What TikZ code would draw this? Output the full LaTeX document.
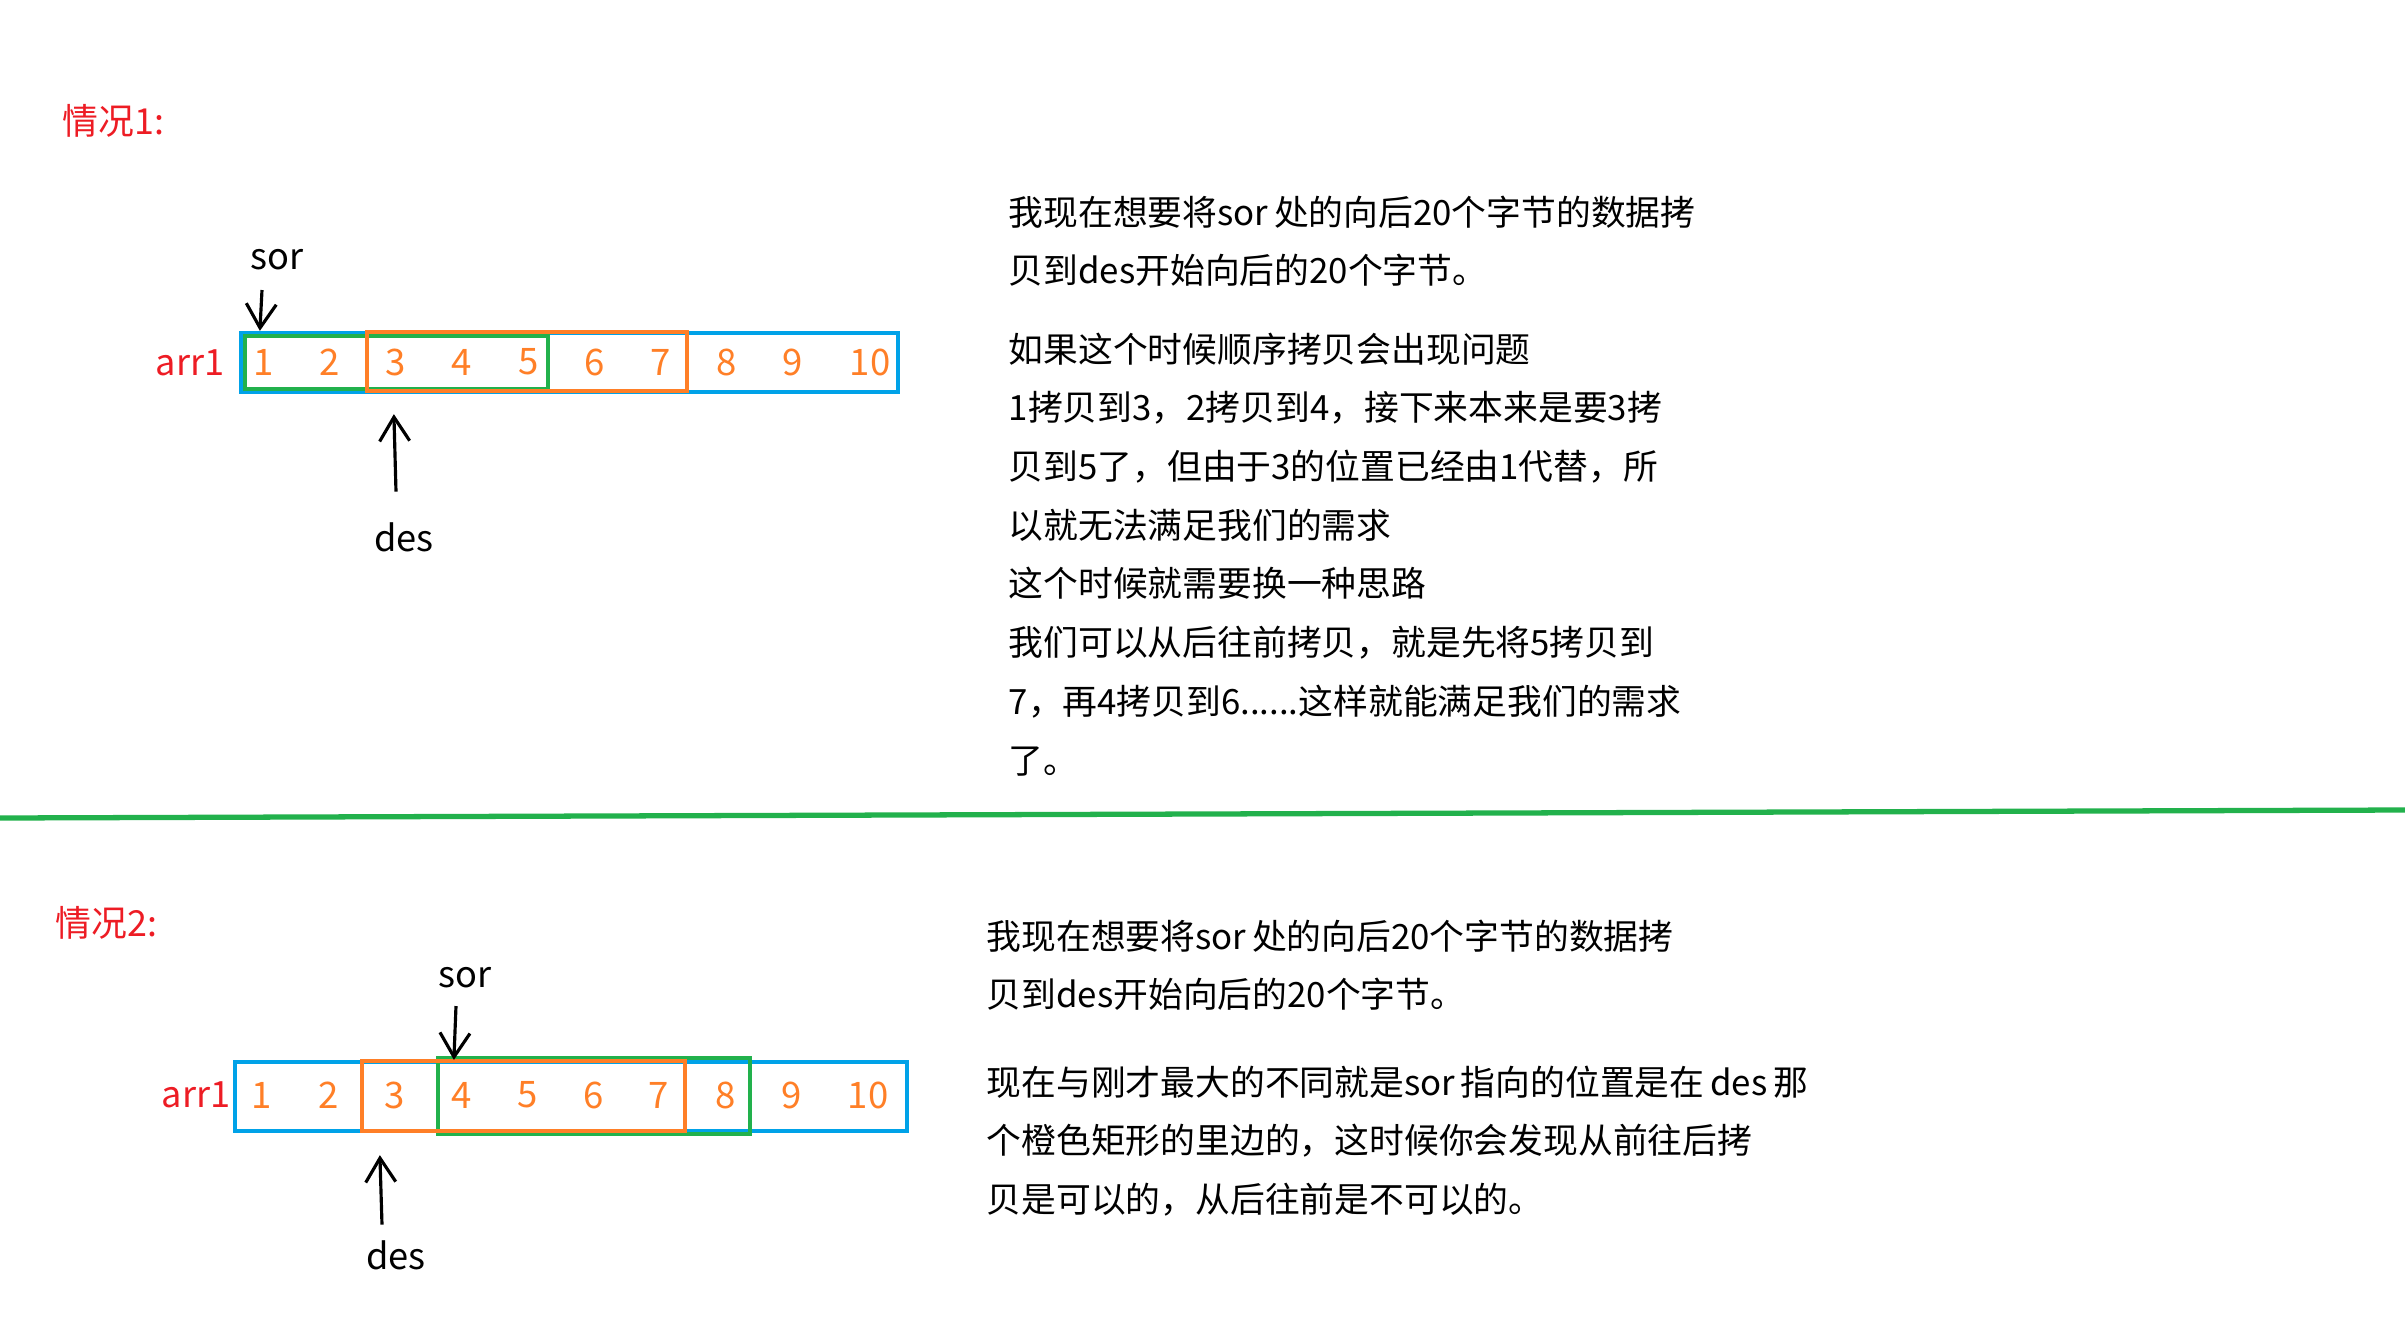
\documentclass[tikz,border=0pt]{standalone}
\usepackage{fontspec}
\setmainfont{Noto Sans CJK SC}
\usetikzlibrary{positioning, arrows.meta, calc}

\definecolor{mspblue}{RGB}{0,162,232}
\definecolor{msporange}{RGB}{255,127,39}
\definecolor{mspgreen}{RGB}{34,177,76}
\definecolor{mspred}{RGB}{237,28,36}

\begin{document}
\begin{tikzpicture}[
  inner sep=0pt,
  font=\fontsize{9.9}{16.7}\selectfont,
  % Estilos de cajas del arreglo
  arrbox/.style={draw, rectangle, line width=1.2pt},
  numtxt/.style={text=msporange, font=\fontsize{10.4}{12}\selectfont},
  % Estilos de textos
  casetxt/.style={anchor=west, text=mspred, font=\fontsize{10.2}{12}\selectfont},
  ptrtxt/.style={font=\fontsize{10.3}{12}\selectfont},
  paratxt/.style={anchor=north west, align=left},
  % Estilos de flechas
  ptr/.style={draw, -{Straight Barb[length=2.4mm, width=3mm]}, line width=0.9pt}
]
  \useasboundingbox (0,0) rectangle (24.05,-13.19);

  % ==========================================
  % CASE 1
  % ==========================================
  \node[casetxt] (case1) at (0.62,-1.21) {情况1:};

  % --- array boxes ---
  \node[arrbox, draw=mspblue, minimum width=6.57cm, minimum height=0.59cm] (arrA) at (5.695,-3.625) {};
  \node[arrbox, draw=mspgreen, minimum width=3.03cm, minimum height=0.53cm] (srcA) at (3.965,-3.625) {};
  \node[arrbox, draw=msporange, minimum width=3.20cm, minimum height=0.59cm] (dstA) at (5.27,-3.615) {};
  \node[text=mspred, ptrtxt] (nameA) at (1.90,-3.63) {arr1};

  % --- cell values ---
  \node[numtxt] (a1) at (2.64,-3.62) {1};
  \node[numtxt] (a2) at (3.30,-3.62) {2};
  \node[numtxt] (a3) at (3.96,-3.62) {3};
  \node[numtxt] (a4) at (4.62,-3.62) {4};
  \node[numtxt] (a5) at (5.29,-3.62) {5};
  \node[numtxt] (a6) at (5.95,-3.62) {6};
  \node[numtxt] (a7) at (6.61,-3.62) {7};
  \node[numtxt] (a8) at (7.27,-3.62) {8};
  \node[numtxt] (a9) at (7.93,-3.62) {9};
  \node[numtxt] (a10) at (8.70,-3.62) {10};

  % --- pointers ---
  \node[ptrtxt] (sorA) at (2.77,-2.60) {sor};
  \node[ptrtxt] (desA) at (4.04,-5.37) {des};
  \draw[ptr] ($(sorA.south)+(-0.15,-0.19)$) -- ($(arrA.north west)+(0.21,0)$);
  \draw[ptr] ($(desA.north)+(-0.08,0.30)$) -- ($(arrA.south west)+(1.55,-0.20)$);

  % --- explanation ---
  \node[paratxt] (txtA1) at (10.08,-1.95) {
    我现在想要将sor\,处的向后20个字节的数据拷\\
    贝到des开始向后的20个字节。
  };
  \node[paratxt] (txtA2) at (10.08,-3.32) {
    如果这个时候顺序拷贝会出现问题\\
    1拷贝到3，2拷贝到4，接下来本来是要3拷\\
    贝到5了，但由于3的位置已经由1代替，所\\
    以就无法满足我们的需求\\
    这个时候就需要换一种思路\\
    我们可以从后往前拷贝，就是先将5拷贝到\\
    7，再4拷贝到6......这样就能满足我们的需求\\
    了。
  };

  % ==========================================
  % SEPARATOR
  % ==========================================
  \coordinate (sepL) at (0,-8.18);
  \coordinate (sepR) at (24.05,-8.10);
  \draw[draw=mspgreen, line width=1.5pt] (sepL) -- (sepR);

  % ==========================================
  % CASE 2
  % ==========================================
  \node[casetxt] (case2) at (0.55,-9.23) {情况2:};

  % --- array boxes ---
  \node[arrbox, draw=mspblue, minimum width=6.72cm, minimum height=0.69cm] (arrB) at (5.71,-10.965) {};
  \node[arrbox, draw=mspgreen, minimum width=3.12cm, minimum height=0.76cm] (srcB) at (5.94,-10.96) {};
  \node[arrbox, draw=msporange, minimum width=3.23cm, minimum height=0.70cm] (dstB) at (5.235,-10.96) {};
  \node[text=mspred, ptrtxt] (nameB) at (1.96,-10.95) {arr1};

  % --- cell values ---
  \node[numtxt] (b1) at (2.62,-10.95) {1};
  \node[numtxt] (b2) at (3.29,-10.95) {2};
  \node[numtxt] (b3) at (3.95,-10.95) {3};
  \node[numtxt] (b4) at (4.62,-10.95) {4};
  \node[numtxt] (b5) at (5.28,-10.95) {5};
  \node[numtxt] (b6) at (5.94,-10.95) {6};
  \node[numtxt] (b7) at (6.59,-10.95) {7};
  \node[numtxt] (b8) at (7.26,-10.95) {8};
  \node[numtxt] (b9) at (7.92,-10.95) {9};
  \node[numtxt] (b10) at (8.68,-10.95) {10};

  % --- pointers ---
  \node[ptrtxt] (sorB) at (4.65,-9.78) {sor};
  \node[ptrtxt] (desB) at (3.96,-12.55) {des};
  \draw[ptr] ($(sorB.south)+(-0.09,-0.17)$) -- ($(srcB.north west)+(0.18,-0.04)$);
  \draw[ptr] ($(desB.north)+(-0.14,0.15)$) -- ($(arrB.south west)+(1.47,-0.22)$);

  % --- explanation ---
  \node[paratxt] (txtB1) at (9.86,-9.19) {
    我现在想要将sor\,处的向后20个字节的数据拷\\
    贝到des开始向后的20个字节。
  };
  \node[paratxt] (txtB2) at (9.86,-10.65) {
    现在与刚才最大的不同就是sor\,指向的位置是在\,des\,那\\
    个橙色矩形的里边的，这时候你会发现从前往后拷\\
    贝是可以的，从后往前是不可以的。
  };

\end{tikzpicture}
\end{document}
